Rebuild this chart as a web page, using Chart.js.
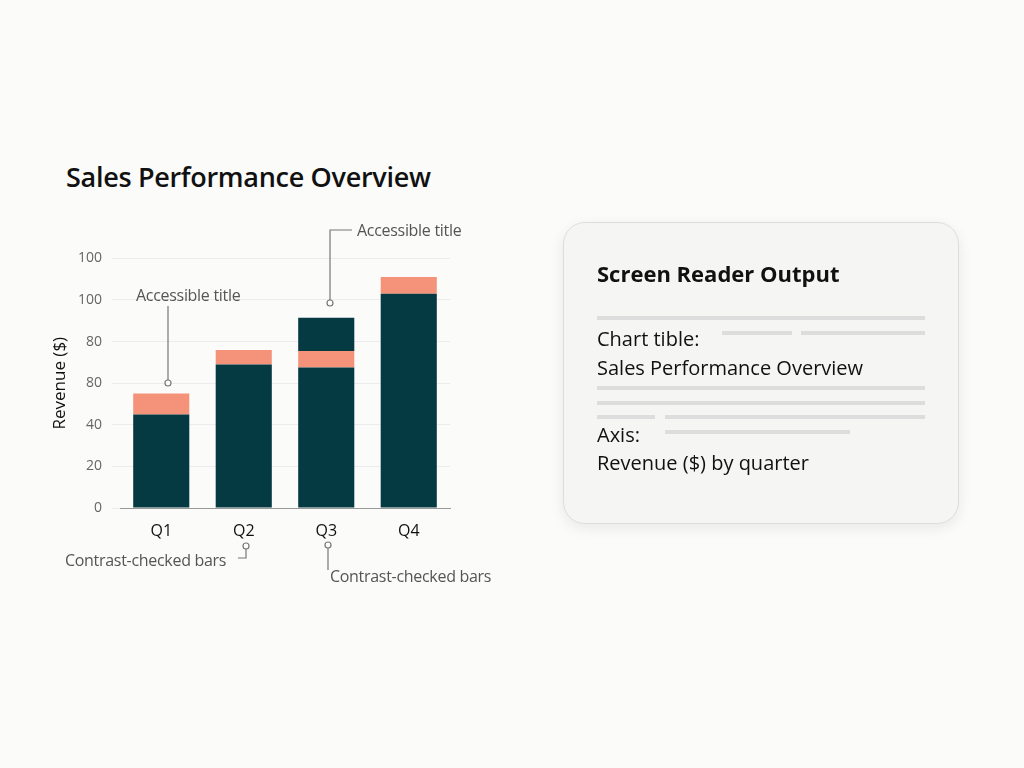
<!DOCTYPE html>
<html><head><meta charset="utf-8">
<script src="https://cdn.jsdelivr.net/npm/chart.js@4"></script>
<style>
body{margin:0;width:1024px;height:768px;background:#fbfbf9;font-family:"Open Sans",sans-serif;position:relative;overflow:hidden}
.abs{position:absolute;white-space:nowrap}
#title{left:66px;top:158px;font-size:27px;font-weight:600;color:#111;letter-spacing:-0.3px}
.ann{font-size:16px;color:#555;letter-spacing:-0.3px}
#card{left:563px;top:222px;width:394px;height:300px;border:1px solid #ddd;border-radius:22px;background:#f5f5f4;box-shadow:0 4px 14px rgba(0,0,0,0.08)}
.ct{font-size:20px;color:#111}
.bar{position:absolute;height:4px;background:#ddd}
</style></head><body>
<div class="abs" id="title">Sales Performance Overview</div>
<div class="abs" style="left:50px;top:240px;width:410px;height:310px"><canvas id="c" width="410" height="310"></canvas></div>
<svg class="abs" style="left:0;top:0" width="1024" height="768">
<g stroke="#777" stroke-width="1.2" fill="#fff">
<path d="M168 306 V380" fill="none"/><circle cx="168" cy="383" r="3"/>
<path d="M352 230 H330 V300" fill="none"/><circle cx="330" cy="303" r="3"/>
<path d="M246 549 V558 H238" fill="none"/><circle cx="246" cy="546" r="3"/>
<path d="M328 548 V570" fill="none"/><circle cx="328" cy="545" r="3"/>
</g></svg>
<div class="abs ann" style="left:136px;top:284px">Accessible title</div>
<div class="abs ann" style="left:357px;top:219px">Accessible title</div>
<div class="abs ann" style="left:65px;top:549px">Contrast-checked bars</div>
<div class="abs ann" style="left:330px;top:565px">Contrast-checked bars</div>
<div class="abs" id="card">
  <div class="abs" style="left:33px;top:35px;font-size:22px;font-weight:700;color:#111">Screen Reader Output</div>
  <div class="bar" style="left:33px;top:93px;width:328px"></div>
  <div class="bar" style="left:158px;top:108px;width:70px"></div>
  <div class="bar" style="left:237px;top:108px;width:124px"></div>
  <div class="abs ct" style="left:33px;top:102px">Chart tible:</div>
  <div class="abs ct" style="left:33px;top:131px">Sales Performance Overview</div>
  <div class="bar" style="left:33px;top:163px;width:328px"></div>
  <div class="bar" style="left:33px;top:178px;width:328px"></div>
  <div class="bar" style="left:33px;top:192px;width:58px"></div>
  <div class="bar" style="left:101px;top:192px;width:260px"></div>
  <div class="bar" style="left:101px;top:207px;width:185px"></div>
  <div class="abs ct" style="left:33px;top:198px">Axis:</div>
  <div class="abs ct" style="left:33px;top:226px">Revenue ($) by quarter</div>
</div>
<script>
const quarters = ['Q1', 'Q2', 'Q3', 'Q4'];
const baseRevenue = [45, 69, 67.5, 103];
const accentRevenue = [10, 7, 8, 8];
const topRevenue = [0, 0, 16, 0];
const tickLabels = ['0', '20', '40', '80', '80', '100', '100'];

const dark = '#063a43', coral = '#f4937a';
const mk = (label, data, color) => ({ label, data, backgroundColor: color, barPercentage: 0.68, categoryPercentage: 1 });

new Chart(document.getElementById('c'), {
  type: 'bar',
  data: { labels: quarters, datasets: [mk('Base', baseRevenue, dark), mk('Accent', accentRevenue, coral), mk('Top', topRevenue, dark)] },
  options: {
    responsive: false, animation: false,
    layout: { padding: { top: 9, right: 10, left: 0, bottom: 0 } },
    plugins: { legend: { display: false }, tooltip: { enabled: false } },
    scales: {
      x: { stacked: true, grid: { display: false }, border: { color: '#999' },
        ticks: { color: '#111', font: { size: 16, family: 'Open Sans' }, padding: 6 },
        afterFit: s => { s.height = 42; } },
      y: { stacked: true, min: 0, max: 120, grid: { color: '#ececec' }, border: { display: false },
        ticks: { stepSize: 20, color: '#666', font: { size: 14, family: 'Open Sans' }, padding: 10,
          callback: (v, i) => tickLabels[i] },
        title: { display: true, text: 'Revenue ($)', color: '#111', font: { size: 17, family: 'Open Sans' }, padding: 0 },
        afterFit: s => { s.width = 70; } }
    }
  }
});
</script>
</body></html>
